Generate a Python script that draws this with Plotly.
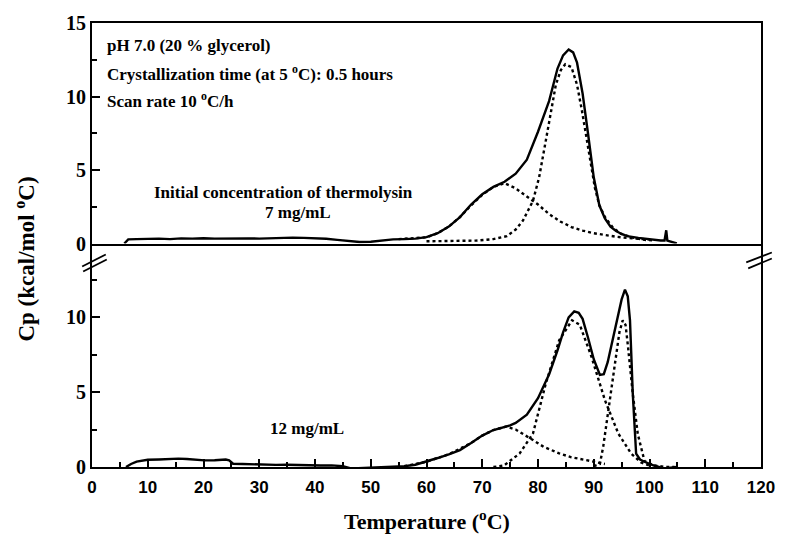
import plotly.graph_objects as go

# ---------------- data ----------------
# Top panel: 7 mg/mL
top_T = [5.8, 6.5, 8, 10, 12, 14, 16, 18, 20, 22, 24, 26, 28, 30, 32, 34, 36, 38, 40, 42,
         44, 46, 48, 50, 52, 54, 56, 58, 60, 62, 64, 66, 68, 70, 72, 74, 76, 78, 80, 82,
         83.5, 84.5, 85.5, 86.3, 87, 88, 89, 90, 91, 92, 93, 94, 95, 96, 98, 100, 102,
         102.7, 103, 103.2, 104, 104.9]
top_Cp = [0.0, 0.28, 0.3, 0.32, 0.33, 0.3, 0.35, 0.33, 0.36, 0.33, 0.35, 0.32, 0.35, 0.33,
          0.37, 0.38, 0.4, 0.38, 0.36, 0.32, 0.25, 0.17, 0.1, 0.12, 0.2, 0.28, 0.3, 0.33,
          0.43, 0.7, 1.15, 1.8, 2.65, 3.35, 3.85, 4.2, 4.75, 5.7, 7.6, 9.7, 11.9, 12.8,
          13.2, 13.0, 12.3, 10.2, 7.4, 4.5, 2.6, 1.7, 1.15, 0.85, 0.65, 0.5, 0.38, 0.28,
          0.2, 0.2, 0.9, 0.2, 0.1, 0.0]

top_c1_T = [55, 60, 62, 64, 66, 68, 70, 72, 74, 76, 78, 80, 82, 84, 86, 88, 90, 92, 94, 96, 98, 100]
top_c1_Cp = [0.3, 0.42, 0.7, 1.15, 1.8, 2.6, 3.3, 3.85, 4.1, 3.75, 3.2, 2.65, 2.0, 1.5, 1.12,
             0.88, 0.7, 0.57, 0.46, 0.38, 0.32, 0.27]

top_c2_T = [60, 65, 69, 72, 74.4, 76, 77.3, 79.1, 80.2, 81.4, 82.3, 83.2, 84.1, 84.9, 86, 87, 87.9,
            89.1, 90.2, 91, 92, 93.5, 94.9, 97, 99.1, 101]
top_c2_Cp = [0.15, 0.15, 0.2, 0.3, 0.5, 0.95, 1.56, 2.9, 4.5, 7.0, 9.0, 10.8, 11.8, 12.2, 12.0, 10.8,
             9.0, 6.3, 3.8, 2.6, 1.8, 1.05, 0.66, 0.4, 0.25, 0.2]

# Bottom panel: 12 mg/mL
bot_T = [6.1, 7, 8, 10, 12, 14, 15.5, 17, 19, 20.2, 22, 24, 24.6, 25.3, 27, 29, 31, 33, 35,
         37, 39, 41, 43, 45, 46.5, 48, 50, 52, 54, 56, 58, 60, 62, 64, 66, 68, 70, 72, 74,
         75, 76, 78, 80, 82, 83.5, 84.5, 85.5, 86.5, 87.3, 88, 89, 90, 91.1, 91.8, 92.5,
         93.3, 94, 95, 95.6, 96.1, 96.5, 97, 97.6, 98.3, 99.1, 100.8, 102.6, 104, 104.9]
bot_Cp = [0.0, 0.2, 0.36, 0.48, 0.5, 0.53, 0.56, 0.53, 0.48, 0.44, 0.45, 0.5, 0.45, 0.22,
          0.2, 0.17, 0.18, 0.14, 0.15, 0.12, 0.13, 0.1, 0.11, 0.05, -0.1, -0.08, -0.05,
          -0.03, 0.02, 0.05, 0.15, 0.36, 0.6, 0.85, 1.13, 1.6, 2.1, 2.47, 2.7, 2.78, 2.95,
          3.5, 4.6, 6.2, 7.8, 9.0, 10.0, 10.4, 10.3, 9.9, 8.6, 7.2, 6.15, 6.2, 7.0, 8.4,
          9.6, 11.2, 11.85, 11.4, 9.8, 4.9, 0.9, 0.5, 0.35, 0.1, -0.1, -0.05, 0.0]

bot_c1_T = [56, 60, 64, 68, 70, 72, 74.3, 76, 79.1, 81, 83.8, 86, 88.5, 90.8, 92]
bot_c1_Cp = [0.05, 0.35, 0.85, 1.6, 2.1, 2.47, 2.7, 2.5, 1.8, 1.35, 0.91, 0.65, 0.47, 0.3, 0.2]

bot_c2_T = [72, 73.9, 76.7, 79.1, 81.4, 83.8, 86.1, 87.5, 89.6, 92, 94.4, 96.7, 98.5, 100]
bot_c2_Cp = [0.0, 0.1, 0.9, 2.24, 5.58, 8.47, 9.8, 9.5, 7.36, 4.47, 2.24, 0.9, 0.3, 0.1]

bot_c3_T = [90, 91.1, 91.7, 92.6, 93.8, 94.6, 95.2, 95.7, 96.1, 97.0, 97.9, 99.1, 100.8, 103, 104.5]
bot_c3_Cp = [0.05, 0.2, 1.36, 3.8, 7.1, 9.0, 9.8, 9.5, 8.2, 4.9, 2.2, 0.4, 0.1, 0.0, 0.0]

x_ticks = [0, 10, 20, 30, 40, 50, 60, 70, 80, 90, 100, 110, 120]
x_minor = [5, 15, 25, 35, 45, 55, 65, 75, 85, 95, 105, 115]
top_y_ticks = [0, 5, 10, 15]
bot_y_ticks = [0, 5, 10]
y_minor = [2.5, 7.5, 12.5]

# ---------------- figure ----------------
fig = go.Figure()
solid = dict(color="black", width=2.4)
dotted = dict(color="black", width=2.4, dash="dot")

fig.add_trace(go.Scatter(x=top_T, y=top_Cp, mode="lines", line=solid, xaxis="x2", yaxis="y2"))
fig.add_trace(go.Scatter(x=top_c1_T, y=top_c1_Cp, mode="lines", line=dotted, xaxis="x2", yaxis="y2"))
fig.add_trace(go.Scatter(x=top_c2_T, y=top_c2_Cp, mode="lines", line=dotted, xaxis="x2", yaxis="y2"))
fig.add_trace(go.Scatter(x=bot_T, y=bot_Cp, mode="lines", line=solid, xaxis="x", yaxis="y"))
fig.add_trace(go.Scatter(x=bot_c1_T, y=bot_c1_Cp, mode="lines", line=dotted, xaxis="x", yaxis="y"))
fig.add_trace(go.Scatter(x=bot_c2_T, y=bot_c2_Cp, mode="lines", line=dotted, xaxis="x", yaxis="y"))
fig.add_trace(go.Scatter(x=bot_c3_T, y=bot_c3_Cp, mode="lines", line=dotted, xaxis="x", yaxis="y"))

serif = "Liberation Serif"
sans = "Liberation Sans"

# plot area: x 92..772 px, y 22..467 px
L, R, T, B = 92, 15, 22, 68
H = 535 - T - B
split = (467 - 243) / H

fig.update_layout(
    width=787, height=535,
    margin=dict(l=L, r=R, t=T, b=B),
    paper_bgcolor="white", plot_bgcolor="white",
    showlegend=False,
    xaxis=dict(domain=[0, 1], range=[0, 120], anchor="y",
               tickvals=x_ticks, ticktext=[str(v) for v in x_ticks],
               ticks="inside", ticklen=8, tickwidth=1.8, tickcolor="black",
               minor=dict(tickvals=x_minor, ticks="inside", ticklen=5, tickwidth=1.5, tickcolor="black"),
               showline=True, linecolor="black", linewidth=1.8, mirror=False,
               showgrid=False, zeroline=False,
               tickfont=dict(family=sans, size=17, color="black", weight="bold"),
               ticklabelstandoff=4),
    yaxis=dict(domain=[0, split], range=[0, (467 - 243) / 15.0], anchor="x",
               tickvals=bot_y_ticks, ticktext=[str(v) for v in bot_y_ticks],
               ticks="inside", ticklen=8, tickwidth=1.8, tickcolor="black",
               minor=dict(tickvals=y_minor, ticks="inside", ticklen=5, tickwidth=1.5, tickcolor="black"),
               showline=True, linecolor="black", linewidth=1.8, mirror=True,
               showgrid=False, zeroline=False,
               tickfont=dict(family=serif, size=20, color="black", weight="bold")),
    xaxis2=dict(domain=[0, 1], range=[0, 120], anchor="y2", matches="x",
                showticklabels=False, ticks="",
                showline=True, linecolor="black", linewidth=1.8, mirror=True,
                showgrid=False, zeroline=False),
    yaxis2=dict(domain=[split, 1], range=[0, 15], anchor="x2",
                tickvals=top_y_ticks, ticktext=[str(v) for v in top_y_ticks],
                ticks="inside", ticklen=8, tickwidth=1.8, tickcolor="black",
                minor=dict(tickvals=y_minor, ticks="inside", ticklen=5, tickwidth=1.5, tickcolor="black"),
                showline=True, linecolor="black", linewidth=1.8, mirror=True,
                showgrid=False, zeroline=False,
                tickfont=dict(family=serif, size=20, color="black", weight="bold")),
)

def px_x(px):
    return (px - L) / 680.0

def px_y(py):
    return (467 - py) / H

ann_font = dict(family=serif, size=17, color="black", weight="bold")
annotations = [
    dict(text="pH 7.0 (20 % glycerol)", x=px_x(105), y=px_y(45), xanchor="left"),
    dict(text="Crystallization time (at 5 <sup>o</sup>C): 0.5 hours", x=px_x(105), y=px_y(72), xanchor="left"),
    dict(text="Scan rate 10 <sup>o</sup>C/h", x=px_x(105), y=px_y(99), xanchor="left"),
    dict(text="Initial concentration of thermolysin", x=px_x(287), y=px_y(192), xanchor="center"),
    dict(text="7 mg/mL", x=px_x(301), y=px_y(212), xanchor="center"),
    dict(text="12 mg/mL", x=px_x(311), y=px_y(428), xanchor="center"),
]
for a in annotations:
    fig.add_annotation(xref="paper", yref="paper", yanchor="middle", showarrow=False,
                       font=ann_font, **a)

fig.add_annotation(text="Temperature (<sup>o</sup>C)", xref="paper", yref="paper",
                   x=px_x(432), y=px_y(520), xanchor="center", yanchor="middle", showarrow=False,
                   font=dict(family=serif, size=22, color="black", weight="bold"))
fig.add_annotation(text="Cp (kcal/mol <sup>o</sup>C)", xref="paper", yref="paper",
                   x=px_x(24), y=px_y(259), xanchor="center", yanchor="middle", showarrow=False,
                   textangle=-90,
                   font=dict(family=serif, size=23, color="black", weight="bold"))

# axis-break marks
def brk(x0, y0, x1, y1):
    fig.add_shape(type="line", xref="paper", yref="paper",
                  x0=px_x(x0), y0=px_y(y0), x1=px_x(x1), y1=px_y(y1),
                  line=dict(color="black", width=1.8))

brk(82, 266, 106, 254)
brk(83, 271, 107, 259)
brk(757, 262, 783, 252)
brk(759, 268, 783, 258)

fig.write_html("out.html")
